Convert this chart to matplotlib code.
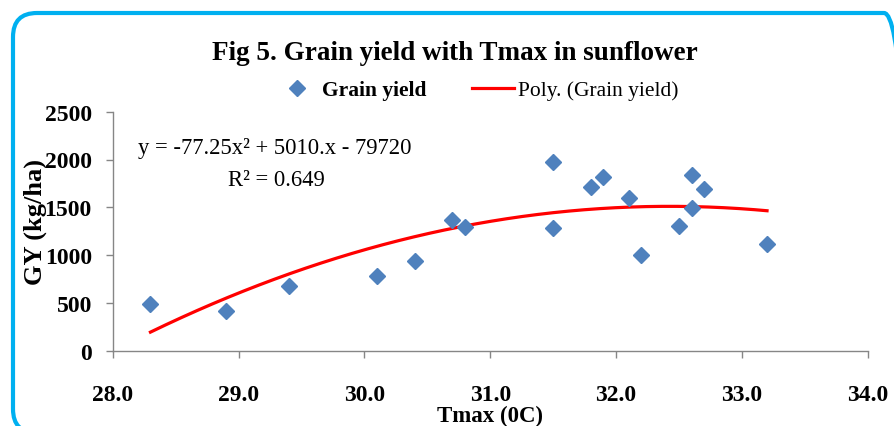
import numpy as np
import matplotlib
matplotlib.use('Agg')
import matplotlib.pyplot as plt
from matplotlib.patches import FancyBboxPatch
from matplotlib.lines import Line2D
from matplotlib.transforms import IdentityTransform

# Data
tmax = [28.3, 28.9, 29.4, 30.1, 30.4, 30.7, 30.8, 31.5, 31.5, 31.8,
        31.9, 32.1, 32.2, 32.5, 32.6, 32.6, 32.7, 33.2]
grain_yield = [490, 420, 680, 780, 940, 1370, 1290, 1970, 1280, 1710,
               1820, 1600, 1000, 1300, 1840, 1490, 1690, 1120]
# Excel trendline coefficients shown on the chart
poly_coef = [-77.25, 5010.0, -79720.0]
x_ticks = [28.0, 29.0, 30.0, 31.0, 32.0, 33.0, 34.0]
y_ticks = [0, 500, 1000, 1500, 2000, 2500]

plt.rcParams['font.family'] = ['Liberation Serif', 'DejaVu Serif']

fig = plt.figure(figsize=(8.94, 4.27), dpi=100)
W, H = 894, 427

# rounded frame in display pixels, runs off the right and bottom edges
frame = FancyBboxPatch((13, H - 434), 895, 420,
                       boxstyle="round,pad=0,rounding_size=24",
                       transform=IdentityTransform(), fill=False,
                       edgecolor='#00B0F0', linewidth=3, zorder=0)
fig.patches.append(frame)

ax = fig.add_axes([112.7 / W, 1 - 351.7 / H, 755 / W, 239 / H])
ax.patch.set_alpha(0)

ax.plot(tmax, grain_yield, linestyle='none', marker='D', ms=8,
        color='#4F81BD', label='Grain yield', zorder=3)
xs = np.linspace(min(tmax), max(tmax), 200)
ax.plot(xs, np.polyval(poly_coef, xs), color='#FF0000', lw=2.3,
        label='Poly. (Grain yield)', zorder=2)

ax.set_xlim(28, 34)
ax.set_ylim(0, 2500)
ax.set_xticks(x_ticks)
ax.set_xticklabels(['%.1f' % t for t in x_ticks])
ax.set_yticks(y_ticks)
for s in ['top', 'right']:
    ax.spines[s].set_visible(False)
for s in ['left', 'bottom']:
    ax.spines[s].set_color('#868686')
    ax.spines[s].set_linewidth(1.0)
ax.tick_params(axis='both', colors='#868686', length=5, width=1.0)
ax.tick_params(axis='x', pad=19)
ax.tick_params(axis='y', pad=10)
for lbl in ax.get_xticklabels() + ax.get_yticklabels():
    lbl.set_color('black')
    lbl.set_fontweight('bold')
    lbl.set_fontsize(17)

ax.set_xlabel('Tmax (0C)', fontsize=16.5, fontweight='bold')
ax.set_ylabel('GY (kg/ha)', fontsize=19, fontweight='bold')
ax.xaxis.set_label_coords(0.5, -0.225)
ax.yaxis.set_label_coords(-0.087, 0.543)

fig.text(455 / W, 1 - 54 / H, 'Fig 5. Grain yield with Tmax in sunflower',
         ha='center', va='center', fontsize=19.5, fontweight='bold')

ax.text(275 / W, 1 - 149 / H, 'y = -77.25x² + 5010.x - 79720',
        transform=fig.transFigure, ha='center', va='center', fontsize=16.3)
ax.text(276 / W, 1 - 181 / H, 'R² = 0.649',
        transform=fig.transFigure, ha='center', va='center', fontsize=16.3)

handles = [Line2D([], [], linestyle='none', marker='D', ms=8, color='#4F81BD'),
           Line2D([], [], color='#FF0000', lw=2.3)]
leg = fig.legend(handles, ['Grain yield', 'Poly. (Grain yield)'], ncol=2,
                 loc='center', bbox_to_anchor=(477 / W, 1 - 91 / H),
                 frameon=False, fontsize=15.5, handlelength=1.95,
                 columnspacing=2.1, handletextpad=0.2)
leg.get_texts()[0].set_fontweight('bold')

fig.savefig('out.png', dpi=100)
